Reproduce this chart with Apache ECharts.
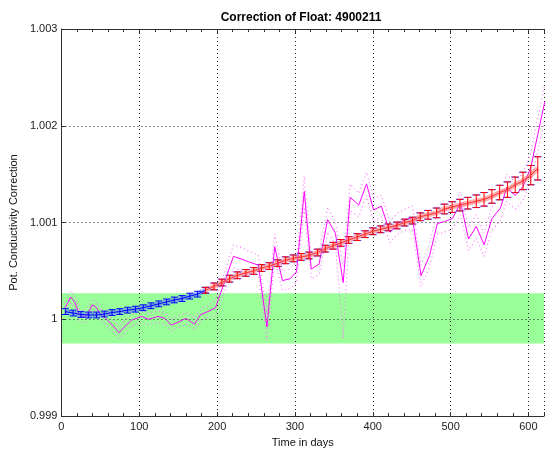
<!DOCTYPE html>
<html>
<head>
<meta charset="utf-8">
<script src="https://cdn.jsdelivr.net/npm/echarts@6/dist/echarts.min.js"></script>
<style>
html,body{margin:0;padding:0;background:#fff;}
#c{width:547px;height:453px;}
</style>
</head>
<body>
<div id="c"></div>
<script>
// ---- data ----
const titleText = "Correction of Float: 4900211";
const xName = "Time in days";
const yName = "Pot. Conductivity Correction";
const xMin = 0, xMax = 620, xStep = 100;
const yMin = 0.999, yMax = 1.003, yStep = 0.001;
const bandLow = 0.99975, bandHigh = 1.00027;
const splitDay = 185;

const trendDays = [5,15,25,35,45,55,65,75,85,95,105,115,125,135,145,155,165,175,185,
  196,206,216,226,237,247,257,267,278,288,298,308,318,329,339,349,359,369,380,390,
  400,410,420,431,441,451,461,471,482,492,502,512,522,533,543,553,563,573,583,593,603,612];
const trendVals = [1.00008,1.000065,1.00005,1.000045,1.000045,1.000055,1.00007,1.00008,1.000095,1.000105,
  1.00012,1.00014,1.00016,1.00018,1.0002,1.000215,1.00024,1.00026,1.0003,
  1.00034,1.00038,1.00042,1.000455,1.00048,1.0005,1.00053,1.00055,1.00058,1.00061,
  1.00063,1.000645,1.00066,1.00069,1.00073,1.00076,1.00079,1.00082,1.00085,1.00088,
  1.00091,1.00093,1.00095,1.00097,1.001,1.00102,1.00106,1.00108,1.0011,1.00114,
  1.00116,1.00118,1.0012,1.00122,1.00124,1.00127,1.00131,1.00134,1.00139,1.00143,1.00149,1.00156];
const trendErr = [0.00003,0.00003,0.00003,0.00003,0.00003,0.00003,0.00003,0.00003,0.00003,0.00003,
  0.00003,0.00003,0.00003,0.00003,0.00003,0.00003,0.00003,0.00003,0.00003,
  0.000035,0.000035,0.000035,0.000035,0.000035,0.000035,0.000035,0.000035,0.000035,0.000035,
  0.000035,0.000035,0.000035,0.000035,0.000035,0.000035,0.000035,0.000035,0.000035,0.000035,
  0.000035,0.000035,0.000035,0.000035,0.000035,0.000035,0.00004,0.000045,0.00005,0.00005,
  0.000055,0.00006,0.00006,0.000065,0.00007,0.00007,0.000075,0.00008,0.00008,0.00009,0.0001,0.00012];

const magDays = [4,12,17,23,31,40,44,50,57,69,74,82,90,103,112,124,133,141,150,160,
  171,179,188,198,221,232,242,253,264,274,284,294,302,312,321,331,342,352,362,371,
  382,392,401,411,422,432,442,451,462,473,483,492,502,513,523,533,543,553,564,572,
  583,593,603,612,621];
const magVals = [1.00011,1.00023,1.00018,1.00005,1.00002,1.00015,1.00013,1.00005,1.00001,0.99991,
  0.99986,0.99993,0.99999,1.00003,1.0,1.00003,1.00001,0.99994,0.99997,1.00001,
  0.99995,1.00005,1.00008,1.00012,1.00065,1.00062,1.00059,1.00056,0.99992,1.00075,
  1.0004,1.00042,1.00049,1.00132,1.00052,1.00057,1.00103,1.00089,1.00038,1.00126,
  1.00118,1.0014,1.00113,1.00117,1.0009,1.00099,1.00103,1.00105,1.00045,1.00066,
  1.00099,1.00101,1.00104,1.0012,1.00083,1.00096,1.00077,1.00104,1.00115,1.00136,
  1.00128,1.00137,1.00157,1.00191,1.00225];
const magUpper = [1.00017,1.00029,1.00024,1.00011,1.00008,1.00021,1.00019,1.00011,1.00007,0.99997,
  0.99992,0.99999,1.00005,1.00009,1.00006,1.00009,1.00007,1.0,1.00003,1.00007,
  1.00001,1.00011,1.00014,1.0002,1.00077,1.00074,1.0007,1.00066,1.00005,1.00088,
  1.0005,1.00052,1.0006,1.00148,1.00062,1.00068,1.00116,1.001,1.00055,1.0014,
  1.0013,1.00152,1.00125,1.00128,1.00101,1.0011,1.00114,1.00117,1.00056,1.00078,
  1.0011,1.00112,1.00115,1.00132,1.00095,1.00108,1.00089,1.00116,1.00128,1.0015,
  1.00142,1.00151,1.00172,1.00208,1.00243];
const magLower = [1.00005,1.00017,1.00012,0.99999,0.99996,1.00009,1.00007,0.99999,0.99995,0.99985,
  0.9998,0.99987,0.99993,0.99997,0.99994,0.99997,0.99995,0.99988,0.99991,0.99995,
  0.99989,0.99999,1.00002,1.00004,1.00053,1.0005,1.00048,1.00046,0.99978,1.00062,
  1.0003,1.00032,1.00038,1.00116,1.00042,1.00046,1.0009,1.00078,0.9998,1.00112,
  1.00106,1.00128,1.00101,1.00106,1.00079,1.00088,1.00092,1.00093,1.00034,1.00054,
  1.00088,1.0009,1.00093,1.00108,1.00071,1.00084,1.00065,1.00092,1.00102,1.00122,
  1.00114,1.00123,1.00142,1.00174,1.00207];

// ---- build series data ----
const blueIdx = trendDays.map((d,i)=>i).filter(i=>trendDays[i] <= splitDay);
const redIdx = trendDays.map((d,i)=>i).filter(i=>trendDays[i] >= splitDay);
const blueLine = blueIdx.map(i=>[trendDays[i], trendVals[i]]);
const redLine = redIdx.map(i=>[trendDays[i], trendVals[i]]);
const blueBars = blueIdx.map(i=>[trendDays[i], trendVals[i], trendErr[i]]);
const redBars = redIdx.map(i=>[trendDays[i], trendVals[i], trendErr[i]]);
const magLine = magDays.map((d,i)=>[d, magVals[i]]);
const magUp = magDays.map((d,i)=>[d, magUpper[i]]);
const magLo = magDays.map((d,i)=>[d, magLower[i]]);

function errRender(color, capHalf, dx, withStem) {
  return function(params, api) {
    const x = api.value(0), c = api.value(1), e = api.value(2);
    const t = api.coord([x, c + e]);
    const b = api.coord([x, c - e]);
    const X = t[0] + dx;
    const st = {stroke: color, lineWidth: 1};
    const kids = [
      {type:'line', shape:{x1:X-capHalf, y1:t[1], x2:X+capHalf, y2:t[1]}, style:st},
      {type:'line', shape:{x1:X-capHalf, y1:b[1], x2:X+capHalf, y2:b[1]}, style:st}
    ];
    if (withStem) kids.push({type:'line', shape:{x1:X, y1:t[1], x2:X, y2:b[1]}, style:st});
    return {type:'group', children:kids};
  };
}

const chart = echarts.init(document.getElementById('c'), null, {renderer:'canvas'});
const fontFam = "'Liberation Sans', Arial, sans-serif";
const axisCol = '#303030';
const gridLine = {show:true, lineStyle:{color:'#202020', type:[1,3], width:1}};

chart.setOption({
  animation:false,
  backgroundColor:'#fff',
  title:{text:titleText, left:296, textAlign:'center', top:7,
    textStyle:{fontFamily:fontFam, fontSize:12, fontWeight:'bold', color:'#000'}},
  grid:{left:57, top:29, right:0, bottom:31, containLabel:false},
  xAxis:[{
    type:'value', min:xMin, max:xMax, interval:xStep, z:1,
    name:xName, nameLocation:'middle', nameGap:19,
    nameTextStyle:{fontFamily:fontFam, fontSize:11, color:'#111'},
    axisLine:{show:true, onZero:false, lineStyle:{color:axisCol}},
    axisTick:{show:true, inside:true, length:4, lineStyle:{color:axisCol}},
    minorTick:{show:true, splitNumber:5, length:3, lineStyle:{color:axisCol}},
    axisLabel:{fontFamily:fontFam, fontSize:11, color:'#222', margin:5,
      formatter:v=> (v > 600 ? '' : String(v))},
    splitLine:gridLine
  },{
    type:'value', position:'top', min:xMin, max:xMax, interval:xStep, z:1,
    axisLine:{show:true, onZero:false, lineStyle:{color:axisCol}},
    axisTick:{show:true, inside:true, length:4, lineStyle:{color:axisCol}},
    minorTick:{show:true, splitNumber:5, length:3, lineStyle:{color:axisCol}},
    axisLabel:{show:false}, splitLine:{show:false}
  }],
  yAxis:{
    type:'value', min:yMin, max:yMax, interval:yStep, z:1,
    name:yName, nameLocation:'middle', nameGap:29, nameRotate:90,
    nameTextStyle:{fontFamily:fontFam, fontSize:11, color:'#111'},
    axisLine:{show:true, onZero:false, lineStyle:{color:axisCol}},
    axisTick:{show:true, inside:true, length:4, lineStyle:{color:axisCol}},
    axisLabel:{fontFamily:fontFam, fontSize:11, color:'#222', margin:4,
      formatter:v=> String(Number(v.toFixed(3)))},
    splitLine:gridLine
  },
  series:[
    {type:'custom', z:0, silent:true, data:[[bandLow, bandHigh]],
      renderItem:function(params, api){
        const cs = params.coordSys;
        const top = api.coord([xMin, api.value(1)])[1];
        const bot = api.coord([xMin, api.value(0)])[1];
        return {type:'rect', shape:{x:cs.x, y:top, width:cs.width, height:bot-top},
          style:{fill:'#99ff99'}};
      }},
    {type:'line', z:2, data:magUp, showSymbol:false, silent:true,
      lineStyle:{color:'#ff77ff', width:1.2, type:[1,3]}},
    {type:'line', z:2, data:magLo, showSymbol:false, silent:true,
      lineStyle:{color:'#ff77ff', width:1.2, type:[1,3]}},
    {type:'line', z:3, data:magLine, showSymbol:false, silent:true,
      lineStyle:{color:'#ff00ff', width:1}},
    {type:'line', z:4, data:blueLine, showSymbol:false, silent:true,
      lineStyle:{color:'rgba(90,110,255,0.55)', width:5}},
    {type:'line', z:4, data:redLine, showSymbol:false, silent:true,
      lineStyle:{color:'rgba(255,110,110,0.55)', width:5}},
    {type:'custom', z:5, silent:true, data:blueBars, renderItem:errRender('#0000ff', 3.5, 0, true)},
    {type:'custom', z:5, silent:true, data:redBars, renderItem:errRender('#4040ff', 4, 0, false)},
    {type:'line', z:6, data:blueLine, showSymbol:false, silent:true,
      lineStyle:{color:'#0000ff', width:1}},
    {type:'custom', z:7, silent:true, data:redBars, renderItem:errRender('#ff0000', 3, 0, true)},
    {type:'line', z:8, data:redLine, showSymbol:false, silent:true,
      lineStyle:{color:'#ff3030', width:1}}
  ]
});
</script>
</body>
</html>
